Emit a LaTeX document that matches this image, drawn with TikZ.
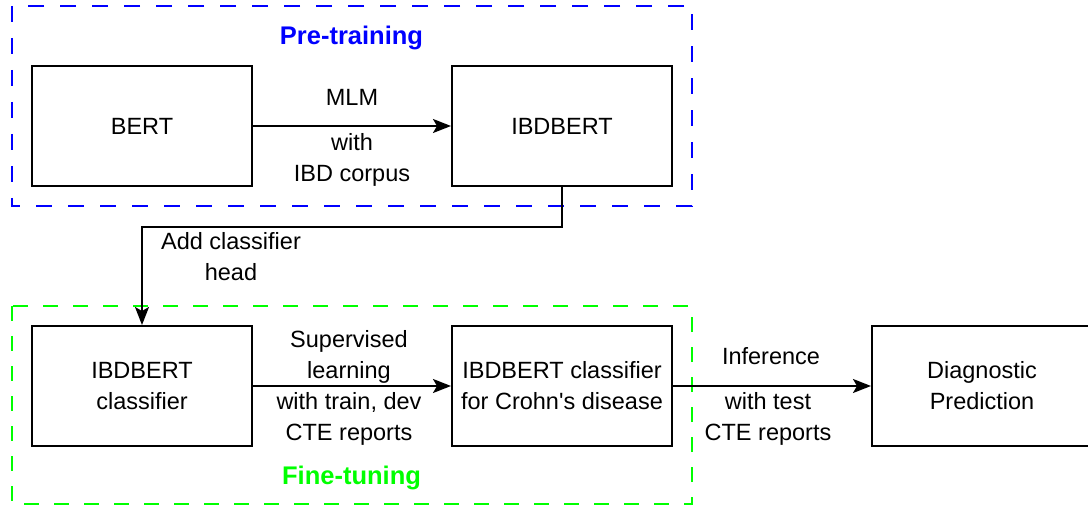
\documentclass[tikz,border=0pt]{standalone}
\usepackage{fontspec}
\setmainfont{Liberation Sans}[Ligatures=TeXOff]
\usetikzlibrary{arrows.meta}
\definecolor{preblue}{RGB}{0,0,255}
\definecolor{finegreen}{RGB}{0,255,0}
\begin{document}
\begin{tikzpicture}[x=1pt,y=-1pt,
  box/.style={draw=black,line width=2pt,minimum width=220pt,minimum height=120pt,
    align=center,inner sep=0pt,font=\fontsize{23.5}{31}\selectfont},
  lbl/.style={align=center,inner sep=0pt,font=\fontsize{23.5}{31}\selectfont},
  title/.style={inner sep=0pt,font=\fontsize{25.5}{31}\selectfont\bfseries},
  arr/.style={draw=black,line width=2pt,-{Stealth[length=18pt,width=14pt,inset=4pt]}},
  group/.style={line width=2pt,dash pattern=on 16pt off 16pt}]
\clip (0,0) rectangle (1088,505);
% groups
\draw[group,draw=preblue] (12,6) rectangle (692,206);
\draw[group,draw=finegreen,line width=1.4pt,dash pattern=on 15pt off 15pt] (12,306) rectangle (692,504);
\node[title,text=preblue,anchor=base] (pre) at (351.5,45) {Pre-training};
\node[title,text=finegreen,anchor=base] (fine) at (351.5,484) {Fine-tuning};
% boxes
\node[box] (bert) at (142,126) {BERT};
\node[box] (ibd) at (562,126) {IBDBERT};
\node[box] (cls) at (142,386) {IBDBERT\\classifier};
\node[box] (crohn) at (562,386) {IBDBERT classifier\\for Crohn's disease};
\node[box] (diag) at (982,386) {Diagnostic\\Prediction};
% connectors
\draw[arr] (bert) -- (ibd);
\draw[arr] (ibd.south) -- ++(0,40) -| (cls.north);
\draw[arr] (cls) -- (crohn);
\draw[arr] (crohn) -- (diag);
% labels
\node[lbl] (mlm) at (352,97) {MLM};
\node[lbl] (corpus) at (352,160) {with\\IBD corpus};
\node[lbl] (head) at (231,256.5) {Add classifier\\head};
\node[lbl] (sup) at (349,357) {Supervised\\learning};
\node[lbl] (train) at (349,418.5) {with train, dev\\CTE reports};
\node[lbl] (inf) at (771,356) {Inference};
\node[lbl] (test) at (768,418.5) {with test\\CTE reports};
\end{tikzpicture}
\end{document}
